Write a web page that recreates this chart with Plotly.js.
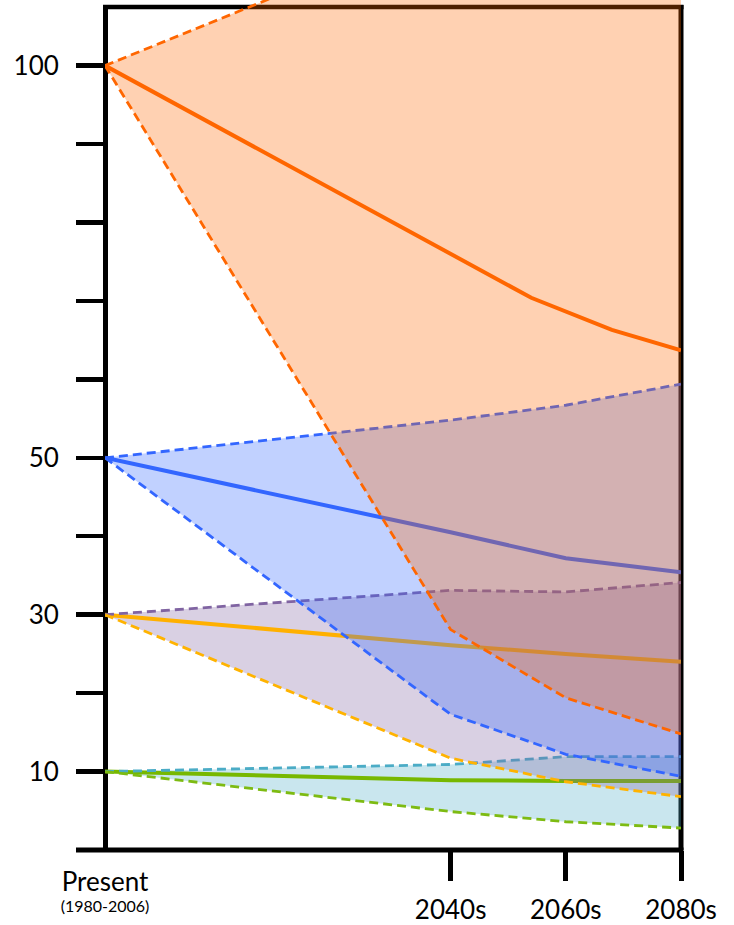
<!DOCTYPE html>
<html><head><meta charset="utf-8">
<script src="https://cdn.plot.ly/plotly-3.0.1.min.js"></script>
<style>html,body{margin:0;padding:0;background:#fff}</style>
</head><body><div id="chart" style="width:734px;height:925px"></div>
<script>
// ---- data ----
const periods = [1980, 2040, 2060, 2080];
const xTickVals = [2040, 2060, 2080];
const xTickText = ['2040s', '2060s', '2080s'];
const presentLabel = 'Present';
const presentSub = '(1980-2006)';
const yTickVals = [0, 10, 20, 30, 40, 50, 60, 70, 80, 90, 100];
const yTickText = ['', '10', '', '30', '', '50', '', '', '', '', '100'];

// band starting at 10
const greenMean = [10, 8.9, 8.8, 8.8];
const greenHigh = [10, 10.9, 11.9, 11.9];
const greenLow  = [10, 4.9, 3.6, 2.8];
// band starting at 30
const purpleMean = [30, 26.1, 25.0, 24.0];
const purpleHigh = [30, 33.1, 32.9, 34.1];
const purpleLow  = [30, 11.7, 8.7, 6.8];
// band starting at 50
const blueMean = [50, 40.5, 37.2, 35.4];
const blueHigh = [50, 54.8, 56.7, 59.4];
const blueLow  = [50, 17.3, 12.2, 9.4];
// band starting at 100
const orangeMeanYears = [1980, 2054, 2068, 2080];
const orangeMean = [100, 70.4, 66.3, 63.7];
const orangeHigh = [100, 117.9, 123.9, 129.8];
const orangeLow  = [100, 28.1, 19.4, 14.8];

// ---- helpers ----
const DASH = '9px,5px';
function band(years, hi, lo, fillColor) {
  return {x: years.concat(years.slice().reverse()), y: hi.concat(lo.slice().reverse()),
    type: 'scatter', mode: 'lines', fill: 'toself', fillcolor: fillColor,
    line: {width: 0}, hoverinfo: 'skip', showlegend: false};
}
function line(years, vals, color, width, dash) {
  return {x: years, y: vals, type: 'scatter', mode: 'lines',
    line: {color: color, width: width, dash: dash || 'solid'}, hoverinfo: 'skip', showlegend: false};
}

const traces = [
  band(periods, greenHigh, greenLow, 'rgba(75,172,198,0.3)'),
  line(periods, greenMean, '#77B800', 4),
  line(periods, greenHigh, '#4BACC6', 2.8, DASH),
  line(periods, greenLow, '#7DBB12', 2.8, DASH),

  band(periods, purpleHigh, purpleLow, 'rgba(128,100,162,0.3)'),
  line(periods, purpleMean, '#FFB000', 4),
  line(periods, purpleHigh, '#8064A2', 2.8, DASH),
  line(periods, purpleLow, '#FFB300', 2.8, DASH),

  band(periods, blueHigh, blueLow, 'rgba(51,102,255,0.3)'),
  line(periods, blueMean, '#3366FF', 4),
  line(periods, blueHigh, '#3366FF', 2.8, DASH),
  line(periods, blueLow, '#3366FF', 2.8, DASH),

  band(periods, orangeHigh, orangeLow, 'rgba(255,102,0,0.3)'),
  line(orangeMeanYears, orangeMean, '#FF6600', 4),
  line(periods, orangeHigh, '#FF6600', 2.8, DASH),
  line(periods, orangeLow, '#FF6600', 2.8, DASH),

  {x: [1980], y: [null], xaxis: 'x2', yaxis: 'y', type: 'scatter', mode: 'lines', hoverinfo: 'skip', showlegend: false}
];

// frame geometry in pixels -> paper
const L = 105, W = 576, H = 850;
const px = v => (v - L) / W;
const py = v => (H - v) / H;
const frame = [
  {x0: px(105.5), x1: px(105.5), y0: py(850), y1: py(5), w: 5},
  {x0: px(103), x1: px(683.5), y0: py(7), y1: py(7), w: 4.5},
  {x0: px(681), x1: px(681), y0: py(850), y1: py(5), w: 5},
  {x0: px(76), x1: px(683.5), y0: py(850), y1: py(850), w: 5}
].map(s => ({type: 'line', xref: 'paper', yref: 'paper', x0: s.x0, x1: s.x1, y0: s.y0, y1: s.y1,
  line: {color: '#000', width: s.w}, layer: 'below'}));

const fam = 'Lato, "Open Sans", sans-serif';
const font = {family: fam, size: 26, color: '#000'};
const layout = {
  width: 734, height: 925,
  margin: {l: 105, r: 53, t: 0, b: 75, pad: 0},
  paper_bgcolor: '#fff', plot_bgcolor: 'rgba(0,0,0,0)',
  showlegend: false,
  font: font,
  xaxis: {range: [1980, 2080], tickmode: 'array', tickvals: xTickVals, ticktext: xTickText,
    ticks: 'outside', ticklen: 30, tickwidth: 5, tickcolor: '#000', ticklabelstandoff: 7,
    showline: false, showgrid: false, zeroline: false, tickfont: font, fixedrange: true},
  xaxis2: {overlaying: 'x', anchor: 'y', side: 'bottom', range: [1980, 2080], tickmode: 'array',
    tickvals: [1980], ticktext: ['<span style="font-size:26px">' + presentLabel + '</span><br>' + presentSub],
    ticks: '', ticklabelstandoff: 24,
    showline: false, showgrid: false, zeroline: false, tickfont: {family: fam, size: 16, color: '#000'}, fixedrange: true},
  yaxis: {range: [0, 850 / 7.844], tickmode: 'array', tickvals: yTickVals, ticktext: yTickText,
    ticks: 'outside', ticklen: 28, tickwidth: 4.5, tickcolor: '#000', ticklabelstandoff: 12,
    showline: false, showgrid: false, zeroline: false, tickfont: font, fixedrange: true},
  shapes: frame
};
Plotly.newPlot('chart', traces, layout, {staticPlot: true, displayModeBar: false});
</script>
</body></html>
